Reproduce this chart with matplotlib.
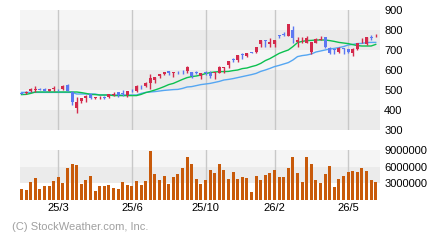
import matplotlib
matplotlib.use("Agg")
import matplotlib.pyplot as plt
import numpy as np

# weekly candles (open, high, low, close)
opens = [485, 486, 493, 501, 505, 507, 493, 506, 502, 503, 525, 492, 408, 443, 460, 478,
         461, 464, 465, 467, 477, 488, 483, 473, 501, 497, 517, 520, 537, 550, 568, 580,
         595, 587, 596, 596, 597, 590, 588, 568, 588, 587, 583, 583, 610, 625, 655, 648,
         680, 672, 688, 690, 728, 750, 732, 732, 775, 778, 772, 800, 740, 743, 737, 688,
         737, 750, 767, 708, 702, 690, 710, 703, 683, 705, 738, 730, 765, 773]
highs = [490, 493, 510, 520, 508, 510, 505, 520, 507, 525, 530, 497, 463, 460, 477, 478,
         467, 472, 470, 480, 490, 488, 498, 493, 503, 525, 523, 542, 580, 565, 578, 590,
         595, 592, 597, 600, 620, 590, 595, 583, 597, 597, 590, 620, 617, 645, 658, 675,
         683, 683, 690, 717, 750, 750, 762, 752, 775, 788, 830, 822, 763, 763, 770, 738,
         762, 770, 767, 717, 703, 717, 712, 703, 712, 733, 762, 763, 773, 780]
lows = [478, 482, 490, 490, 500, 493, 493, 497, 493, 500, 497, 425, 387, 437, 440, 455,
        455, 457, 455, 462, 470, 467, 468, 467, 488, 488, 507, 517, 507, 535, 560, 575,
        577, 567, 582, 582, 583, 558, 580, 557, 573, 558, 557, 583, 587, 612, 642, 640,
        653, 667, 683, 683, 717, 717, 715, 715, 758, 770, 772, 737, 713, 733, 733, 680,
        733, 748, 708, 680, 680, 683, 680, 683, 672, 700, 733, 727, 750, 767]
closes = [480, 489, 506, 505, 502, 497, 505, 510, 499, 520, 497, 442, 442, 460, 470, 458,
          463, 466, 462, 478, 480, 473, 480, 493, 499, 522, 514, 533, 560, 565, 578, 590,
          585, 591, 593, 594, 617, 570, 586, 583, 586, 570, 590, 617, 617, 645, 652, 675,
          677, 683, 685, 717, 750, 743, 742, 752, 770, 776, 830, 762, 750, 746, 758, 738,
          753, 753, 717, 687, 700, 708, 707, 688, 707, 733, 741, 763, 762, 777]

ma_short = [477, 478, 483, 490, 490, 490, 490, 490, 490, 490, 490, 490, 490, 487, 483, 478,
            477, 475, 475, 475, 472, 472, 472, 472, 472, 472, 478, 487, 493, 500, 508, 517,
            527, 533, 543, 553, 562, 567, 570, 575, 582, 587, 590, 592, 592, 593, 597, 600,
            607, 610, 617, 623, 633, 647, 657, 670, 683, 692, 700, 717, 737, 743, 747, 748,
            750, 750, 750, 747, 743, 738, 735, 732, 727, 722, 720, 720, 720, 728]
ma_long = [488, 488, 488, 488, 488, 488, 488, 488, 488, 488, 488, 488, 480, 480, 480, 480,
           480, 475, 475, 475, 475, 475, 475, 475, 475, 475, 483, 488, 490, 492, 495, 498,
           500, 502, 503, 508, 515, 517, 522, 527, 530, 533, 538, 543, 550, 553, 557, 562,
           567, 572, 577, 583, 593, 600, 608, 617, 623, 630, 637, 650, 667, 672, 675, 680,
           690, 695, 700, 705, 708, 712, 717, 725, 728, 732, 733, 737, 738, 738]

volume = [1980000, 1800000, 3240000, 3960000, 1980000, 2520000, 2520000, 3420000,
          4140000, 3060000, 5760000, 6480000, 6300000, 2880000, 3600000, 4320000,
          1620000, 2520000, 2520000, 2700000, 2160000, 1980000, 3240000, 2700000,
          2520000, 3420000, 2700000, 3420000, 8820000, 4680000, 3600000, 4320000,
          2880000, 4140000, 4680000, 5760000, 7740000, 6480000, 3780000, 2880000,
          3600000, 5400000, 4860000, 6480000, 5400000, 3780000, 5040000, 3780000,
          4140000, 3960000, 1440000, 4320000, 3600000, 4500000, 4860000, 5400000,
          4140000, 4140000, 5760000, 7740000, 4860000, 3240000, 7740000, 6480000,
          3600000, 3060000, 4680000, 6120000, 2340000, 3780000, 4320000, 5040000,
          5220000, 5040000, 5760000, 5220000, 3600000, 3240000]

date_pos = [8, 24, 40, 55, 71]
date_labels = ["25/3", "25/6", "25/10", "26/2", "26/5"]

price_ticks = [300, 400, 500, 600, 700, 800, 900]
vol_ticks = [3000000, 6000000, 9000000]

RED = "#d42a4c"
BLUE = "#5c78f2"
GRID = "#c8c8c8"

plt.rcParams["font.family"] = "Liberation Sans"

fig = plt.figure(figsize=(4.4, 2.4), dpi=100)
ax = fig.add_axes([20 / 440, 1 - 130 / 240, 360 / 440, 120 / 240])
axv = fig.add_axes([20 / 440, 1 - 200 / 240, 360 / 440, 50 / 240])

x = np.arange(len(opens))
xlim = (-0.33, len(opens) - 0.07)

# price panel background bands
for k, lo in enumerate(range(300, 900, 100)):
    ax.axhspan(lo, lo + 100, color="#ebebeb" if k % 2 == 0 else "#f5f5f5", lw=0, zorder=0)
for p in date_pos:
    ax.axvline(p, color=GRID, lw=1, zorder=1)

ax.plot(x, ma_long, color="#55a6f2", lw=1, zorder=2)
ax.plot(x, ma_short, color="#0cc050", lw=1, zorder=2)

o = np.array(opens)
c = np.array(closes)
cols = [RED if cc >= oo else BLUE for oo, cc in zip(o, c)]
ax.vlines(x, lows, highs, colors=cols, lw=1, zorder=3)
body = np.maximum(np.abs(c - o), 3)
ax.bar(x, body, bottom=np.minimum(o, c), width=0.65, color=cols, lw=0, zorder=4)

ax.set_xlim(*xlim)
ax.set_ylim(300, 900)
ax.set_yticks(price_ticks)
ax.yaxis.tick_right()
ax.set_xticks([])

# volume panel
axv.axhspan(3000000, 6000000, color="#ebebeb", lw=0, zorder=0)
axv.axhspan(6000000, 9000000, color="#f5f5f5", lw=0, zorder=0)
for p in date_pos:
    axv.axvline(p, color=GRID, lw=1, zorder=1)
axv.bar(x, volume, width=0.65, color="#c85a0a", lw=0, zorder=2)
axv.set_xlim(*xlim)
axv.set_ylim(0, 9000000)
axv.set_yticks(vol_ticks)
axv.set_yticklabels([str(v) for v in vol_ticks])
axv.yaxis.tick_right()
axv.set_xticks(date_pos)
axv.set_xticklabels(date_labels)

for a in (ax, axv):
    for s in a.spines.values():
        s.set_visible(False)
    a.tick_params(length=0, labelsize=8, colors="black", pad=3)
axv.tick_params(axis="x", pad=2)

fig.text(12 / 440, 1 - 227 / 240, "(C) StockWeather.com, Inc.", color="#a0a0a0",
         fontsize=8, va="center", ha="left")

fig.savefig("out.png", dpi=100)
